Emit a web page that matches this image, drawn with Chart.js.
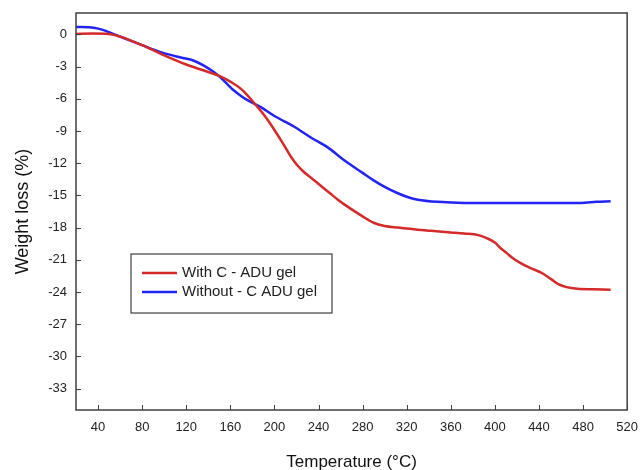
<!DOCTYPE html>
<html>
<head>
<meta charset="utf-8">
<title>Weight loss</title>
<script src="https://cdn.jsdelivr.net/npm/chart.js"></script>
<style>
  html, body { margin: 0; padding: 0; background: #fff; }
  canvas { display: block; }
</style>
</head>
<body>
<canvas id="tga" width="640" height="470"></canvas>
<script>
// temperature (C) / weight loss (%)
var tempWithC = [20, 35, 50, 60, 80, 97, 120, 140, 151, 160, 170, 185, 192, 200, 208, 215, 220, 226, 232, 238, 245, 251, 257, 265, 280, 290, 300, 312, 330, 342, 360, 372, 385, 393, 400, 405, 411, 417, 425, 433, 442, 451, 458, 465, 475, 490, 505];
var lossWithC = [0.05, 0.08, 0.05, -0.2, -1.0, -1.8, -2.8, -3.5, -3.9, -4.4, -5.1, -6.8, -7.7, -8.9, -10.2, -11.4, -12.1, -12.75, -13.25, -13.75, -14.35, -14.85, -15.35, -15.95, -16.95, -17.55, -17.85, -18.0, -18.2, -18.3, -18.45, -18.55, -18.7, -19.0, -19.4, -19.9, -20.4, -20.9, -21.4, -21.8, -22.2, -22.8, -23.3, -23.55, -23.7, -23.75, -23.8];

var tempWithout = [20, 36, 45, 52, 65, 80, 97, 115, 127, 136, 145, 151, 157, 163, 170, 176, 188, 200, 218, 233, 248, 263, 280, 290, 300, 312, 322, 330, 348, 372, 400, 440, 478, 492, 505];
var lossWithout = [0.7, 0.62, 0.4, 0.12, -0.4, -1.0, -1.65, -2.15, -2.45, -2.9, -3.5, -4.0, -4.6, -5.2, -5.75, -6.15, -6.8, -7.6, -8.6, -9.6, -10.5, -11.7, -12.9, -13.6, -14.2, -14.8, -15.2, -15.4, -15.6, -15.7, -15.7, -15.7, -15.7, -15.6, -15.55];

var seriesNames = ["With C - ADU gel", "Without - C ADU gel"];
var xTicks = [40, 80, 120, 160, 200, 240, 280, 320, 360, 400, 440, 480, 520];
var yTicks = [0, -3, -6, -9, -12, -15, -18, -21, -24, -27, -30, -33];

function toPoints(xs, ys) {
    var pts = [];
    for (var i = 0; i < xs.length; i++) {
        pts.push({x: xs[i], y: ys[i]});
    }
    return pts;
}

var axisColor = '#404040';
var fontName = '"Liberation Sans", Arial, sans-serif';

// box around the plot + inward tick marks
var framePlugin = {
    id: 'frame',
    afterDatasetsDraw: function(chart) {
        var ctx = chart.ctx, a = chart.chartArea;
        var xs = chart.scales.x, ys = chart.scales.y;
        ctx.save();
        ctx.strokeStyle = axisColor;
        ctx.lineWidth = 1.5;
        ctx.strokeRect(a.left, a.top, a.right - a.left, a.bottom - a.top);
        ctx.lineWidth = 1;
        ctx.beginPath();
        xTicks.forEach(function(v) {
            var px = Math.round(xs.getPixelForValue(v)) + 0.5;
            ctx.moveTo(px, a.bottom);
            ctx.lineTo(px, a.bottom - 5);
        });
        yTicks.forEach(function(v) {
            var py = Math.round(ys.getPixelForValue(v)) + 0.5;
            ctx.moveTo(a.left, py);
            ctx.lineTo(a.left + 5, py);
        });
        ctx.stroke();
        ctx.restore();
    }
};

// legend box inside the plot, lower left
var legendPlugin = {
    id: 'boxLegend',
    afterDraw: function(chart) {
        var ctx = chart.ctx, a = chart.chartArea;
        var bx = a.left + 55, by = a.top + 241, bw = 201, bh = 59;
        ctx.save();
        ctx.fillStyle = '#fff';
        ctx.fillRect(bx, by, bw, bh);
        ctx.strokeStyle = axisColor;
        ctx.lineWidth = 1.2;
        ctx.strokeRect(bx, by, bw, bh);
        ctx.font = '15px ' + fontName;
        ctx.textBaseline = 'middle';
        chart.data.datasets.forEach(function(ds, i) {
            var ly = by + 19 + i * 19;
            ctx.strokeStyle = ds.borderColor;
            ctx.lineWidth = 2.5;
            ctx.beginPath();
            ctx.moveTo(bx + 11, ly);
            ctx.lineTo(bx + 46, ly);
            ctx.stroke();
            ctx.fillStyle = '#222';
            ctx.fillText(ds.label, bx + 51, ly);
        });
        ctx.restore();
    }
};

new Chart(document.getElementById('tga'), {
    type: 'line',
    data: {
        datasets: [
            {
                label: seriesNames[0],
                data: toPoints(tempWithC, lossWithC),
                borderColor: '#d42a2a',
                borderWidth: 2.5,
                pointRadius: 0,
                cubicInterpolationMode: 'monotone',
                fill: false
            },
            {
                label: seriesNames[1],
                data: toPoints(tempWithout, lossWithout),
                borderColor: '#2424f2',
                borderWidth: 2.5,
                pointRadius: 0,
                cubicInterpolationMode: 'monotone',
                fill: false
            }
        ]
    },
    options: {
        responsive: false,
        animation: false,
        layout: { padding: { top: 13, right: 9, left: 0, bottom: 0 } },
        plugins: {
            legend: { display: false },
            tooltip: { enabled: false }
        },
        scales: {
            x: {
                type: 'linear',
                min: 20,
                max: 520,
                grid: { display: false },
                border: { display: false },
                afterBuildTicks: function(scale) {
                    scale.ticks = xTicks.map(function(v) { return {value: v}; });
                },
                afterFit: function(scale) { scale.height = 60; },
                ticks: {
                    autoSkip: false,
                    maxRotation: 0,
                    padding: 2,
                    color: '#222',
                    font: { family: fontName, size: 13 }
                },
                title: {
                    display: true,
                    text: 'Temperature (°C)',
                    color: '#111',
                    padding: { top: 0, bottom: -3 },
                    font: { family: fontName, size: 17 }
                }
            },
            y: {
                type: 'linear',
                min: -35,
                max: 2,
                grid: { display: false },
                border: { display: false },
                afterBuildTicks: function(scale) {
                    scale.ticks = yTicks.map(function(v) { return {value: v}; });
                },
                afterFit: function(scale) { scale.width = 76; },
                ticks: {
                    autoSkip: false,
                    padding: 1,
                    color: '#222',
                    font: { family: fontName, size: 13 }
                },
                title: {
                    display: true,
                    text: 'Weight loss (%)',
                    color: '#111',
                    padding: { top: 12, bottom: 0 },
                    font: { family: fontName, size: 18 }
                }
            }
        }
    },
    plugins: [framePlugin, legendPlugin]
});
</script>
</body>
</html>
